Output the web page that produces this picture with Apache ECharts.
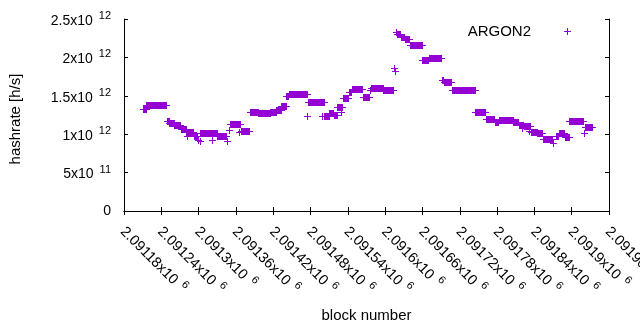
<!DOCTYPE html>
<html>
<head>
<meta charset="utf-8">
<script src="https://cdn.jsdelivr.net/npm/echarts@6/dist/echarts.min.js"></script>
<style>
  html, body { margin: 0; padding: 0; background: #fff; }
  #chart { width: 640px; height: 330px; }
</style>
</head>
<body>
<div id="chart"></div>
<script>
// runs of consecutive blocks sharing one hashrate value (x10^12 h/s)
const runStart = [
  2091211, 2091216, 2091249, 2091253, 2091261, 2091271, 2091280, 2091281, 2091292, 2091299,
  2091302, 2091303, 2091322, 2091323, 2091330, 2091346, 2091349, 2091351, 2091365, 2091368,
  2091383, 2091396, 2091415, 2091425, 2091433, 2091440, 2091445, 2091475, 2091476, 2091498,
  2091502, 2091509, 2091517, 2091523, 2091529, 2091533, 2091542, 2091546, 2091564, 2091576,
  2091578, 2091597, 2091614, 2091616, 2091618, 2091619, 2091625, 2091632, 2091640, 2091660,
  2091670, 2091691, 2091694, 2091707, 2091745, 2091762, 2091776, 2091783, 2091806, 2091815,
  2091820, 2091823, 2091831, 2091834, 2091845, 2091854, 2091870, 2091874, 2091879, 2091889,
  2091896, 2091920, 2091921
];
const runEnd = [
  2091215, 2091247, 2091252, 2091260, 2091270, 2091279, 2091291, 2091281, 2091298, 2091299,
  2091302, 2091321, 2091322, 2091329, 2091344, 2091346, 2091349, 2091366, 2091365, 2091381,
  2091395, 2091414, 2091424, 2091432, 2091441, 2091444, 2091475, 2091475, 2091501, 2091498,
  2091510, 2091516, 2091522, 2091530, 2091529, 2091541, 2091545, 2091563, 2091574, 2091576,
  2091596, 2091613, 2091614, 2091616, 2091618, 2091624, 2091631, 2091639, 2091659, 2091669,
  2091690, 2091693, 2091706, 2091744, 2091761, 2091775, 2091782, 2091805, 2091814, 2091822,
  2091820, 2091833, 2091831, 2091844, 2091853, 2091869, 2091870, 2091878, 2091888, 2091895,
  2091918, 2091920, 2091932
];
const runRate = [
  1.33, 1.376, 1.17, 1.145, 1.125, 1.064, 1.026, 0.98, 0.975, 0.93,
  0.91, 1.02, 0.925, 1.01, 0.975, 0.91, 1.06, 1.13, 1.03, 1.046,
  1.285, 1.27, 1.293, 1.315, 1.371, 1.50, 1.521, 1.237, 1.415, 1.237,
  1.233, 1.27, 1.245, 1.348, 1.293, 1.47, 1.543, 1.585, 1.48, 1.575,
  1.597, 1.57, 1.86, 1.82, 2.327, 2.30, 2.263, 2.235, 2.157, 1.962,
  1.988, 1.70, 1.68, 1.58, 1.283, 1.194, 1.163, 1.185, 1.157, 1.115,
  1.077, 1.105, 1.04, 1.033, 1.01, 0.94, 0.89, 0.98, 1.01, 0.97,
  1.178, 1.01, 1.098
];

const xTickBase = ['2.09118x10', '2.09124x10', '2.0913x10', '2.09136x10', '2.09142x10', '2.09148x10', '2.09154x10',
  '2.0916x10', '2.09166x10', '2.09172x10', '2.09178x10', '2.09184x10', '2.0919x10', '2.09196x10'];
const xTickExp = ['6', '6', '6', '6', '6', '6', '6', '6', '6', '6', '6', '6', '6', '6'];
const yTickBase = ['0', '5x10', '1x10', '1.5x10', '2x10', '2.5x10'];
const yTickExp = ['', '11', '12', '12', '12', '12'];

const purple = '#9400d3';
const xMin = 2091180, xMax = 2091960, xStep = 60;
const yMin = 0, yMax = 2.5, yStep = 0.5;

const data = runStart.map((s, i) => [s, runEnd[i], runRate[i]]);

function richLabel(base, exp) {
  if (!exp) return '{z|' + base + '}';
  return '{b|' + base + '}{s|' + exp + '}';
}

const yRich = {
  b: { fontFamily: 'Liberation Sans', fontSize: 14, color: '#000', padding: [4, 0, 0, 0] },
  s: { fontFamily: 'Liberation Sans', fontSize: 11, color: '#000', padding: [0, 0, 6, 6] },
  z: { fontFamily: 'Liberation Sans', fontSize: 14, color: '#000' }
};
const xRich = {
  b: { fontFamily: 'Liberation Sans', fontSize: 14.5, color: '#000', padding: [4, 0, 0, 0] },
  s: { fontFamily: 'Liberation Sans', fontSize: 11, color: '#000', padding: [0, 0, 6, 6] }
};

const chart = echarts.init(document.getElementById('chart'));

const axisBase = {
  type: 'value',
  axisLine: { show: true, lineStyle: { color: '#000', width: 1 } },
  axisTick: { show: true, inside: true, length: 4, lineStyle: { color: '#000' } },
  splitLine: { show: false }
};

chart.setOption({
  animation: false,
  backgroundColor: '#fff',
  grid: { left: 124, top: 19, width: 485, height: 192, containLabel: false, outerBoundsMode: 'none' },
  legend: {
    right: 69,
    top: 24,
    padding: 0,
    align: 'right',
    itemWidth: 63,
    itemHeight: 7,
    textStyle: { fontFamily: 'Liberation Sans', fontSize: 15, color: '#000' },
    data: [{ name: 'ARGON2', icon: 'path://M3,0h1v3h3v1h-3v3h-1v-3h-3v-1h3z' }]
  },
  xAxis: [
    Object.assign({}, axisBase, {
      position: 'bottom',
      min: xMin, max: xMax, interval: xStep,
      name: 'block number',
      nameLocation: 'middle',
      nameGap: 97,
      nameTextStyle: { fontFamily: 'Liberation Sans', fontSize: 15, color: '#000' },
      axisLabel: {
        rotate: -45,
        margin: 17,
        formatter: function (v) {
          const i = Math.round((v - xMin) / xStep);
          return richLabel(xTickBase[i], xTickExp[i]);
        },
        rich: xRich
      }
    }),
    Object.assign({}, axisBase, {
      position: 'top',
      min: xMin, max: xMax, interval: xStep,
      axisLabel: { show: false }
    })
  ],
  yAxis: [
    Object.assign({}, axisBase, {
      position: 'left',
      min: yMin, max: yMax, interval: yStep,
      name: 'hashrate [h/s]',
      nameLocation: 'middle',
      nameGap: 101,
      nameTextStyle: { fontFamily: 'Liberation Sans', fontSize: 15, color: '#000', padding: [0, 8, 0, 0] },
      axisLabel: {
        margin: 13,
        formatter: function (v) {
          const i = Math.round((v - yMin) / yStep);
          return richLabel(yTickBase[i], yTickExp[i]);
        },
        rich: yRich
      }
    }),
    Object.assign({}, axisBase, {
      position: 'right',
      min: yMin, max: yMax, interval: yStep,
      axisLabel: { show: false }
    })
  ],
  series: [{
    name: 'ARGON2',
    type: 'custom',
    color: purple,
    itemStyle: { color: purple },
    encode: { x: [0, 1], y: 2 },
    data: data,
    renderItem: function (params, api) {
      const a = api.coord([api.value(0), api.value(2)]);
      const b = api.coord([api.value(1), api.value(2)]);
      const x0 = Math.round(a[0]), x1 = Math.round(b[0]), y = Math.round(a[1]);
      // overlapping '+' marks: solid block from the vertical arms, thin arm sticking out each side
      return {
        type: 'group',
        children: [
          { type: 'rect', shape: { x: x0, y: y - 3, width: x1 - x0 + 1, height: 7 }, style: { fill: purple } },
          { type: 'rect', shape: { x: x0 - 3, y: y, width: x1 - x0 + 7, height: 1 }, style: { fill: purple } }
        ]
      };
    }
  }]
});
</script>
</body>
</html>
